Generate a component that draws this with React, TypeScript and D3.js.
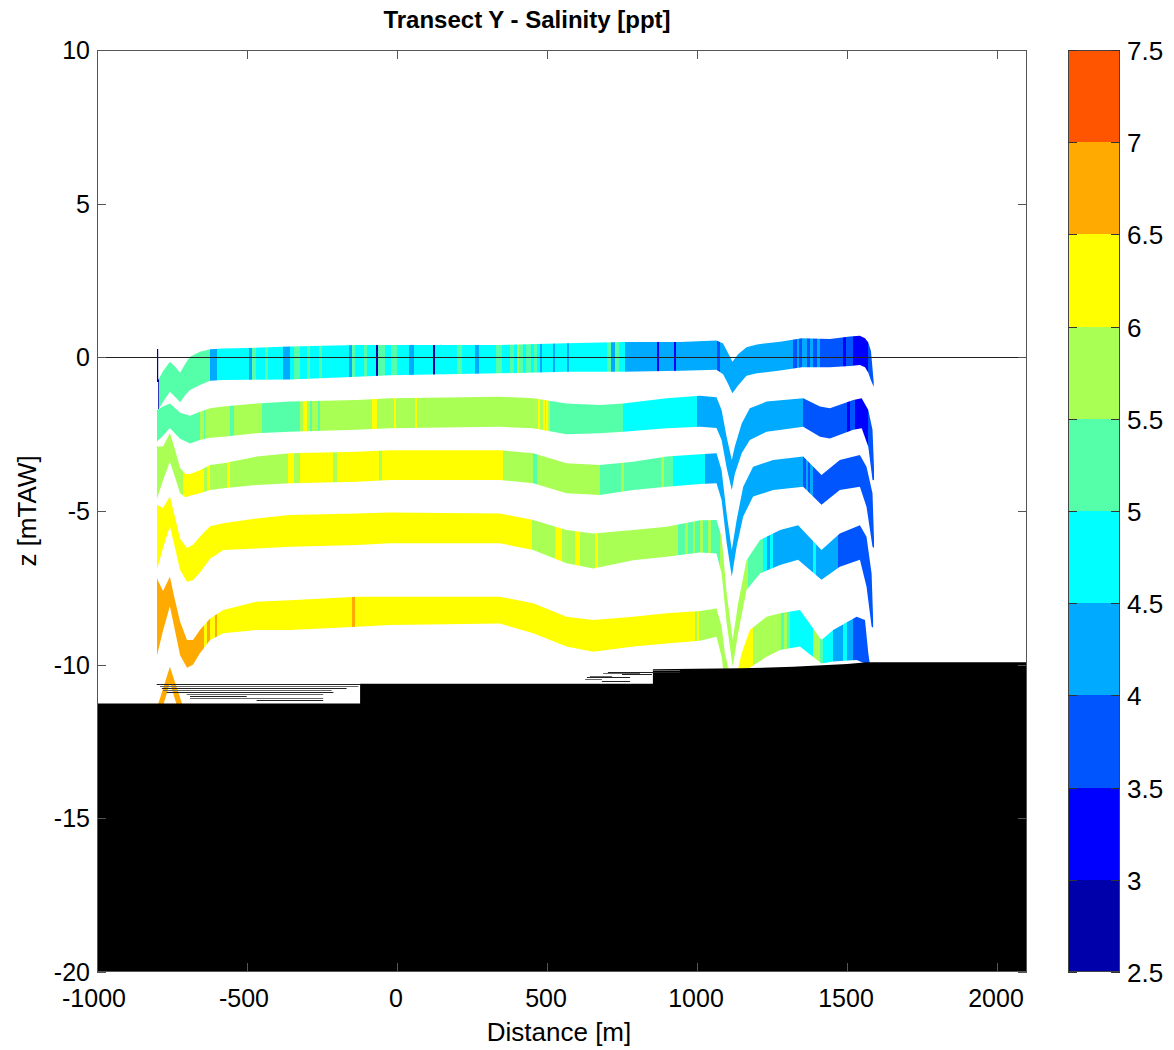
import React from 'react';
import * as d3 from 'd3';

// ---------- axis / legend data ----------
const xDomain: [number, number] = [-1000, 2100];
const zDomain: [number, number] = [-20, 10];
const xTicks = [-1000, -500, 0, 500, 1000, 1500, 2000];
const zTicks = [-20, -15, -10, -5, 0, 5, 10];
const cbTicks = [2.5, 3, 3.5, 4, 4.5, 5, 5.5, 6, 6.5, 7, 7.5];
const cbColors = ['#0000AA', '#0000FF', '#0055FF', '#00AAFF', '#00FFFF', '#55FFAA', '#AAFF55', '#FFFF00', '#FFAA00', '#FF5500'];

// ---------- band geometry: [distance, top z, bottom z] ----------
const band1: [number, number, number][] = [
  [-800, 0.27, -0.8], [-796, 0.27, -0.8], [-796, -0.74, -1.71], [-780, -0.45, -1.45], [-757, -0.14, -1.12],
  [-740, -0.3, -1.28], [-723, -0.5, -1.46], [-705, -0.2, -1.22], [-690, 0.02, -1.06], [-657, 0.18, -0.9],
  [-623, 0.26, -0.76], [-580, 0.29, -0.74], [-500, 0.3, -0.73], [-357, 0.35, -0.72], [-134, 0.4, -0.63],
  [-23, 0.4, -0.58], [343, 0.4, -0.52], [565, 0.46, -0.47], [754, 0.5, -0.47], [943, 0.5, -0.44],
  [1065, 0.55, -0.4], [1087, 0.45, -0.55], [1103, 0.15, -0.85], [1118, -0.14, -1.17], [1137, 0.1, -0.92],
  [1165, 0.33, -0.6], [1200, 0.42, -0.52], [1277, 0.51, -0.43], [1349, 0.62, -0.32], [1443, 0.6, -0.32],
  [1510, 0.68, -0.28], [1543, 0.7, -0.25], [1560, 0.62, -0.32], [1571, 0.48, -0.5], [1580, 0.2, -0.75],
  [1589, -0.8, -0.96],
];
const band2: [number, number, number][] = [
  [-800, -1.71, -2.74], [-780, -1.6, -2.55], [-757, -1.5, -2.3], [-740, -1.65, -2.48], [-723, -1.8, -2.65],
  [-690, -1.9, -2.8], [-657, -1.77, -2.69], [-623, -1.66, -2.62], [-579, -1.6, -2.58], [-468, -1.5, -2.47],
  [-357, -1.44, -2.42], [-134, -1.39, -2.36], [-23, -1.33, -2.31], [343, -1.28, -2.26], [454, -1.33, -2.31],
  [565, -1.5, -2.5], [676, -1.55, -2.47], [754, -1.5, -2.42], [899, -1.33, -2.31], [1010, -1.25, -2.26],
  [1065, -1.3, -2.3], [1082, -1.71, -2.69], [1099, -2.6, -3.6], [1116, -3.34, -4.32], [1126, -2.9, -3.8],
  [1149, -2.15, -3.12], [1176, -1.66, -2.69], [1232, -1.44, -2.42], [1354, -1.33, -2.26], [1410, -1.6, -2.58],
  [1443, -1.66, -2.64], [1521, -1.39, -2.36], [1549, -1.33, -2.31], [1571, -1.71, -2.91], [1585, -2.36, -3.99],
  [1590, -3.6, -4.0],
];
const band3: [number, number, number][] = [
  [-800, -2.9, -4.6], [-780, -2.9, -4.0], [-757, -2.47, -3.4], [-740, -3.0, -3.9], [-723, -3.6, -4.42],
  [-705, -3.8, -4.55], [-690, -3.8, -4.5], [-657, -3.67, -4.42], [-623, -3.5, -4.32], [-579, -3.45, -4.26],
  [-468, -3.23, -4.15], [-357, -3.12, -4.1], [-134, -3.07, -4.05], [-23, -3.02, -3.99], [343, -3.02, -3.99],
  [454, -3.12, -4.1], [565, -3.45, -4.42], [676, -3.5, -4.48], [787, -3.4, -4.32], [899, -3.23, -4.21],
  [1010, -3.15, -4.12], [1065, -3.12, -4.1], [1082, -3.67, -4.64], [1099, -5.1, -6.05], [1116, -6.27, -7.14],
  [1132, -5.3, -6.16], [1154, -4.21, -5.18], [1187, -3.56, -4.53], [1254, -3.34, -4.32], [1354, -3.23, -4.21],
  [1415, -3.83, -4.8], [1476, -3.34, -4.32], [1543, -3.18, -4.21], [1565, -3.56, -4.86], [1585, -4.42, -6.16],
  [1590, -5.9, -6.2],
];
const band4: [number, number, number][] = [
  [-800, -4.8, -6.9], [-780, -4.9, -6.2], [-757, -4.53, -5.5], [-740, -5.2, -6.2], [-723, -5.9, -6.92],
  [-700, -6.2, -7.3], [-680, -6.1, -7.25], [-657, -5.84, -7.0], [-623, -5.5, -6.55], [-579, -5.4, -6.27],
  [-468, -5.24, -6.22], [-357, -5.13, -6.16], [-134, -5.08, -6.11], [-23, -5.05, -6.05], [343, -5.08, -6.05],
  [454, -5.29, -6.27], [565, -5.62, -6.7], [654, -5.73, -6.87], [787, -5.62, -6.6], [899, -5.51, -6.49],
  [1010, -5.3, -6.35], [1065, -5.29, -6.38], [1082, -5.84, -7.03], [1099, -7.68, -8.66], [1119, -9.2, -10.07],
  [1137, -8.0, -8.98], [1165, -6.6, -7.57], [1210, -5.94, -7.03], [1277, -5.62, -6.76], [1337, -5.46, -6.59],
  [1415, -6.27, -7.24], [1476, -5.73, -6.81], [1543, -5.46, -6.59], [1565, -5.84, -7.46], [1582, -7.03, -8.76],
  [1587, -8.5, -8.8],
];
const band5: [number, number, number][] = [
  [-800, -7.2, -9.7], [-780, -7.6, -8.9], [-757, -7.14, -8.1], [-740, -7.9, -8.9], [-723, -8.6, -9.69],
  [-700, -9.2, -10.1], [-680, -9.2, -10.0], [-657, -8.87, -9.63], [-623, -8.5, -9.2], [-579, -8.22, -8.98],
  [-468, -7.95, -8.87], [-357, -7.9, -8.87], [-134, -7.79, -8.77], [-23, -7.79, -8.71], [343, -7.79, -8.66],
  [454, -8.0, -8.98], [565, -8.44, -9.41], [654, -8.55, -9.58], [787, -8.44, -9.41], [899, -8.33, -9.31],
  [1010, -8.25, -9.22], [1065, -8.17, -9.09], [1082, -8.76, -9.74], [1093, -9.63, -10.6], [1121, -10.8, -11.5],
  [1149, -9.63, -10.6], [1176, -8.87, -10.1], [1232, -8.44, -9.74], [1277, -8.33, -9.52], [1343, -8.22, -9.41],
  [1415, -9.2, -9.96], [1454, -8.87, -9.9], [1532, -8.44, -9.85], [1560, -8.55, -9.96], [1571, -9.63, -10.06],
  [1575, -9.9, -10.1],
];
const band6: [number, number, number][] = [
  [-800, -11.4, -12.0], [-757, -10.07, -10.6], [-712, -11.4, -12.0],
];

// ---------- salinity along each band: [start distance, salinity ppt] ----------
const band1Sal: [number, number][] = [
  [-800, 2.75], [-794, 5.25], [-623, 4.25], [-601, 4.75], [-495, 4.25], [-484, 5.25], [-470, 4.75], [-440, 5.25],
  [-430, 4.75], [-380, 4.25], [-357, 4.75], [-345, 5.25], [-323, 4.75], [-300, 5.25], [-290, 4.75], [-260, 5.25],
  [-250, 4.75], [-160, 4.25], [-150, 5.25], [-140, 4.75], [-110, 5.25], [-100, 4.75], [-70, 2.75], [-62, 5.25],
  [-40, 4.75], [-20, 5.25], [0, 4.75], [40, 4.25], [55, 4.75], [120, 2.75], [128, 4.75], [200, 5.25],
  [215, 4.75], [260, 4.25], [272, 4.75], [330, 5.25], [350, 4.75], [376, 5.25], [390, 4.75], [400, 5.75],
  [405, 5.25], [420, 4.75], [430, 5.25], [445, 4.75], [455, 5.25], [465, 4.75], [475, 4.25], [482, 4.75],
  [520, 4.25], [527, 4.75], [565, 4.25], [572, 4.75], [700, 5.25], [712, 4.25], [728, 5.25], [740, 4.75],
  [760, 4.25], [866, 3.25], [873, 4.25], [922, 3.25], [929, 4.25], [1068, 3.75], [1078, 4.25], [1321, 3.75],
  [1332, 4.25], [1340, 3.75], [1350, 4.25], [1365, 3.75], [1375, 4.25], [1387, 3.75], [1400, 4.25], [1410, 3.75],
  [1487, 3.25], [1498, 3.75], [1521, 3.25], [1570, 3.75],
];
const band2Sal: [number, number][] = [
  [-800, 5.25], [-657, 5.75], [-645, 5.25], [-640, 5.75], [-557, 5.25], [-545, 5.75], [-451, 5.25], [-323, 5.75],
  [-312, 6.25], [-301, 5.75], [-290, 5.25], [-282, 5.75], [-265, 5.25], [-258, 5.75], [-84, 6.25], [-67, 5.75],
  [-10, 6.25], [-2, 5.75], [60, 6.25], [68, 5.75], [471, 6.25], [476, 5.75], [487, 6.25], [492, 5.75],
  [497, 6.25], [502, 5.75], [510, 5.25], [754, 4.75], [999, 4.25], [1354, 3.75], [1499, 3.25], [1510, 3.75],
  [1526, 3.25], [1570, 3.75],
];
const band3Sal: [number, number][] = [
  [-800, 5.75], [-712, 6.25], [-645, 5.75], [-634, 6.25], [-623, 5.75], [-567, 6.25], [-557, 5.75], [-362, 6.25],
  [-345, 5.75], [-323, 6.25], [-212, 5.75], [-201, 6.25], [-60, 5.75], [-50, 6.25], [354, 5.75], [454, 5.25],
  [465, 5.75], [676, 5.25], [748, 5.75], [758, 5.25], [880, 5.75], [890, 5.25], [921, 4.75], [1026, 4.25],
  [1354, 3.75], [1362, 4.25], [1370, 3.75], [1378, 4.25], [1387, 3.75],
];
const band4Sal: [number, number][] = [
  [-800, 6.25], [449, 5.75], [526, 6.25], [549, 5.75], [593, 6.25], [610, 5.75], [660, 6.25], [671, 5.75],
  [937, 5.25], [960, 5.75], [970, 5.25], [985, 5.75], [993, 5.25], [1010, 5.75], [1020, 5.25], [1035, 5.75],
  [1045, 5.25], [1076, 5.75], [1171, 5.25], [1221, 4.75], [1232, 4.25], [1243, 4.75], [1254, 4.25], [1387, 4.75],
  [1398, 4.25], [1471, 3.75],
];
const band5Sal: [number, number][] = [
  [-800, 6.75], [-645, 6.25], [-634, 6.75], [-623, 6.25], [-606, 6.75], [-599, 6.25], [-151, 6.75], [-140, 6.25],
  [993, 5.75], [1000, 6.25], [1005, 5.75], [1100, 6.25], [1187, 5.75], [1280, 5.25], [1290, 5.75], [1300, 5.25],
  [1310, 4.75], [1387, 5.75], [1410, 5.25], [1420, 4.75], [1454, 4.25], [1487, 4.75], [1500, 4.25], [1521, 3.75],
];
const band6Sal: [number, number][] = [[-800, 6.75]];

// ---------- sea bed (top of black region) ----------
const groundTop: [number, number][] = [
  [-1000, -11.26], [-123, -11.26], [-123, -10.62], [853, -10.62], [853, -10.15], [1143, -10.12],
  [1320, -10.07], [1500, -9.98], [1567, -9.92], [2100, -9.92],
];
// thin edge lines above the bed: [x1, x2, z]
const groundSlivers: [number, number, number][] = [
  [-801, -123, -10.64], [-790, -129, -10.69], [-784, -168, -10.76], [-779, -218, -10.82], [-768, -212, -10.89],
  [-701, -246, -10.95], [-690, -501, -11.02], [-690, -246, -11.08], [-468, -246, -11.15],
  [853, 943, -10.17], [703, 943, -10.23], [687, 810, -10.28], [750, 850, -10.31], [643, 717, -10.37],
  [633, 777, -10.41], [627, 683, -10.48], [683, 777, -10.52],
];

const bands = [
  { profile: band1, sal: band1Sal },
  { profile: band2, sal: band2Sal },
  { profile: band3, sal: band3Sal },
  { profile: band4, sal: band4Sal },
  { profile: band5, sal: band5Sal },
  { profile: band6, sal: band6Sal },
];

const FONT = '"Liberation Sans", Arial, Helvetica, sans-serif';

export default function App() {
  const W = 1174, H = 1050;
  const L = 97, R = 1027, T = 50, B = 972;
  const cbX = 1068, cbW = 52;

  const xs = d3.scaleLinear().domain(xDomain).range([L, R]);
  const ys = d3.scaleLinear().domain(zDomain).range([B, T]);
  const cs = d3.scaleLinear().domain([2.5, 7.5]).range([B, T]);
  const color = d3.scaleThreshold<number, string>()
    .domain([3, 3.5, 4, 4.5, 5, 5.5, 6, 6.5, 7])
    .range(cbColors);

  const area = d3.area<[number, number, number]>()
    .x(d => xs(d[0]))
    .y0(d => ys(d[2]))
    .y1(d => ys(d[1]));

  const groundArea = d3.area<[number, number]>()
    .x(d => xs(d[0]))
    .y0(() => ys(zDomain[0]))
    .y1(d => ys(d[1]));

  const axisColor = '#555';
  const tickLen = 9;

  return (
    <svg width={W} height={H} style={{ position: 'absolute', left: 0, top: 0, background: '#fff' }}
      fontFamily={FONT}>
      <defs>
        <clipPath id="plotClip">
          <rect x={L} y={T} width={R - L} height={B - T} />
        </clipPath>
        {bands.map((b, i) => (
          <clipPath id={`band${i}`} key={i}>
            <path d={area(b.profile) || ''} />
          </clipPath>
        ))}
      </defs>

      <g clipPath="url(#plotClip)">
        {bands.map((b, i) => {
          const xEnd = b.profile[b.profile.length - 1][0];
          const zTop = d3.max(b.profile, d => d[1])! + 0.5;
          const zBot = d3.min(b.profile, d => d[2])! - 0.5;
          return (
            <g clipPath={`url(#band${i})`} key={i}>
              {b.sal.map((s, j) => {
                const x0 = Math.round(xs(s[0]));
                const next = j < b.sal.length - 1 ? b.sal[j + 1][0] : xEnd + 5;
                const x1 = Math.round(xs(next));
                return (
                  <rect key={j} x={x0} y={ys(zTop)} width={Math.max(1, x1 - x0)}
                    height={ys(zBot) - ys(zTop)} fill={color(s[1])} shapeRendering="crispEdges" />
                );
              })}
            </g>
          );
        })}
        <path d={groundArea(groundTop) || ''} fill="#000" />
        {groundSlivers.map((s, i) => (
          <line key={i} x1={xs(s[0])} x2={xs(s[1])} y1={Math.round(ys(s[2])) + 0.5} y2={Math.round(ys(s[2])) + 0.5}
            stroke={i % 2 ? '#666' : '#222'} strokeWidth={1} />
        ))}
        <line x1={L} x2={R} y1={Math.round(ys(0)) + 0.5} y2={Math.round(ys(0)) + 0.5} stroke="#222" strokeWidth={1} />
      </g>

      {/* axes box */}
      <rect x={L + 0.5} y={T + 0.5} width={R - L - 1} height={B - T - 1} fill="none" stroke={axisColor} strokeWidth={1} />
      {xTicks.map(t => (
        <g key={`xt${t}`}>
          <line x1={Math.round(xs(t)) + 0.5} x2={Math.round(xs(t)) + 0.5} y1={B} y2={B - tickLen} stroke={axisColor} />
          <line x1={Math.round(xs(t)) + 0.5} x2={Math.round(xs(t)) + 0.5} y1={T} y2={T + tickLen} stroke={axisColor} />
          <text x={xs(t) - (t < 0 ? 3 : 1)} y={B + 35} fontSize={25} textAnchor="middle" fill="#000">{t}</text>
        </g>
      ))}
      {zTicks.map(t => (
        <g key={`zt${t}`}>
          <line x1={L} x2={L + tickLen} y1={Math.round(ys(t)) + 0.5} y2={Math.round(ys(t)) + 0.5} stroke={axisColor} />
          <line x1={R} x2={R - tickLen} y1={Math.round(ys(t)) + 0.5} y2={Math.round(ys(t)) + 0.5} stroke={axisColor} />
          <text x={L - 7} y={ys(t) + 9} fontSize={25} textAnchor="end" fill="#000">{t}</text>
        </g>
      ))}

      <text x={527} y={28} fontSize={24} fontWeight="bold" textAnchor="middle" fill="#000">
        Transect Y - Salinity [ppt]
      </text>
      <text x={(L + R) / 2 - 3} y={1041} fontSize={26} textAnchor="middle" fill="#000">Distance [m]</text>
      <text transform={`translate(36, ${(T + B) / 2}) rotate(-90)`} fontSize={26} textAnchor="middle" fill="#000">
        z [mTAW]
      </text>

      {/* colorbar */}
      {cbColors.map((c, i) => (
        <rect key={`cb${i}`} x={cbX} y={cs(cbTicks[i + 1])} width={cbW}
          height={cs(cbTicks[i]) - cs(cbTicks[i + 1])} fill={c} shapeRendering="crispEdges" />
      ))}
      <rect x={cbX + 0.5} y={T + 0.5} width={cbW - 1} height={B - T - 1} fill="none" stroke="#444" strokeWidth={1} />
      {cbTicks.map(t => (
        <g key={`cbt${t}`}>
          <line x1={cbX} x2={cbX + 9} y1={Math.round(cs(t)) + 0.5} y2={Math.round(cs(t)) + 0.5} stroke="#333" />
          <line x1={cbX + cbW} x2={cbX + cbW - 9} y1={Math.round(cs(t)) + 0.5} y2={Math.round(cs(t)) + 0.5} stroke="#333" />
          <text x={cbX + cbW + 7} y={cs(t) + 10} fontSize={26} textAnchor="start" fill="#000">{t}</text>
        </g>
      ))}
    </svg>
  );
}
